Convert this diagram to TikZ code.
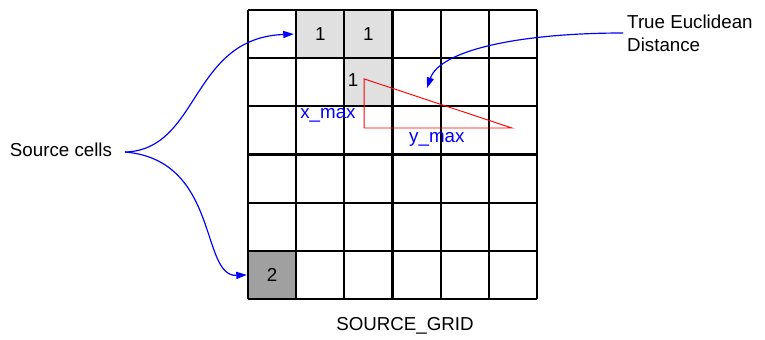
\documentclass[tikz,border=0pt]{standalone}
\usepackage{fontspec}
\setmainfont{Liberation Sans}
\usetikzlibrary{positioning,arrows.meta}

\definecolor{cellLight}{HTML}{E0E0E0}
\definecolor{cellDark}{HTML}{A0A0A0}

\begin{document}
\begin{tikzpicture}[
    x=0.03cm,y=-0.03cm,
    >={Triangle[length=9pt,width=6pt]},
    every node/.style={font=\fontsize{16}{19.5}\selectfont},
    cell/.style={minimum size=1.445cm,inner sep=0pt,outer sep=0pt},
    gridline/.style={draw=black,line width=1.8pt},
    label text/.style={text=blue,inner sep=0pt},
    pointer/.style={->,draw=blue,line width=1pt},
    leg/.style={draw=red,line width=0.8pt}
]
\useasboundingbox (0,0) rectangle (765,340);

% the 6x6 grid, one unit per cell
\begin{scope}[shift={(248,10)},x=1.445cm,y=-1.445cm]
  \node[cell,fill=cellLight] (A) at (1.5,0.5) {1};
  \node[cell,fill=cellLight] (B) at (2.5,0.5) {1};
  \node[cell,fill=cellLight] (C) at (2.5,1.5) {};
  \node[cell,fill=cellDark] (D) at (0.5,5.5) {2};
  \node (Cnum) at (2.18,1.45) {1};
  \foreach \i in {0,...,6} {
    \draw[gridline] (\i,0) -- (\i,6);
    \draw[gridline] (0,\i) -- (6,\i);
  }
  % triangle of the distance
  \coordinate (T1) at (2.41,1.43);
  \coordinate (T2) at (2.41,2.45);
  \coordinate (T3) at (5.48,2.45);
  \draw[leg] (T1) -- (T2) -- (T3) -- cycle;
  \node[label text] (XM) at (1.66,2.18) {x\_max};
  \node[label text] (YM) at (3.92,2.68) {y\_max};
\end{scope}

\node[inner sep=0pt] (SRC) at (61,150) {Source cells};
\node[align=left,anchor=west,inner sep=0pt] (TED) at (627,33) {True Euclidean\\Distance};
\node (SG) at (405,326) {SOURCE\_GRID};

\coordinate (SRCend) at (125,152);
\coordinate (TEDend) at (623,33);
\coordinate (TEDtip) at (427,88);
\path[pointer] (SRCend) .. controls (200,150) and (190,38) .. ([xshift=-2pt]A.west);
\path[pointer] (SRCend) .. controls (220,160) and (200,277) .. ([xshift=-1pt]D.west);
\path[pointer] (TEDend) .. controls (520,33) and (440,50) .. (TEDtip);
\end{tikzpicture}
\end{document}
